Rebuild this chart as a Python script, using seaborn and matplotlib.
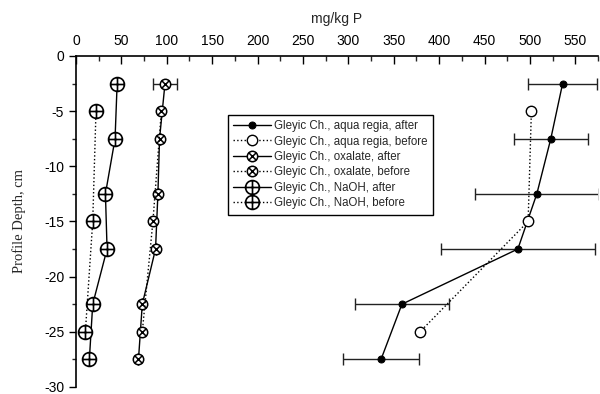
import numpy as np
import seaborn as sns
import matplotlib.pyplot as plt
from matplotlib.path import Path

# depths (cm)
depth_after = [-2.5, -7.5, -12.5, -17.5, -22.5, -27.5]
depth_before = [-5, -15, -25]

# aqua regia
aqua_after = [536, 523, 507.6, 486.7, 359, 336]
aqua_after_err = [38, 41, 68, 85, 52, 42]
aqua_before = [501.6, 498, 379]

# oxalate
oxal_after = [98, 92, 90.2, 87.6, 73, 68.8]
oxal_after_err = [13.5, 0, 0, 0, 0, 0]
oxal_before = [94, 84.7, 73]

# NaOH
naoh_after = [45.3, 43, 32.4, 34.2, 18.4, 14.7]
naoh_before = [22, 18.4, 10.3]

sns.set_style("ticks")
plt.rcParams['font.family'] = ['Liberation Sans', 'DejaVu Sans']
plt.rcParams['axes.unicode_minus'] = False


def circle_with(lines):
    parts = [Path.unit_circle()]
    for (a, b) in lines:
        parts.append(Path([a, b], [Path.MOVETO, Path.LINETO]))
    return Path.make_compound_path(*parts)


r = 0.70710678
m_plus = circle_with([((-1, 0), (1, 0)), ((0, -1), (0, 1))])
m_cross = circle_with([((-r, -r), (r, r)), ((-r, r), (r, -r))])

fig = plt.figure(figsize=(6, 3.94), dpi=100)
ax = fig.add_axes([0.1267, 0.018, 0.87, 0.84])

# error bars
ax.errorbar(aqua_after, depth_after, xerr=aqua_after_err, fmt='none',
            ecolor='#222222', elinewidth=1, capsize=4, capthick=1, zorder=1)
ax.errorbar(oxal_after, depth_after, xerr=oxal_after_err, fmt='none',
            ecolor='#222222', elinewidth=1, capsize=4, capthick=1, zorder=1)

common = dict(sort=False, estimator=None, orient='y', color='black',
              linewidth=1, ax=ax, zorder=3)

sns.lineplot(x=aqua_after, y=depth_after, linestyle='-', marker='o',
             markersize=5, mfc='black', mec='black',
             label='Gleyic Ch., aqua regia, after', **common)
sns.lineplot(x=aqua_before, y=depth_before, linestyle=':', marker='o',
             markersize=7.5, mfc='white', mec='black', mew=1,
             label='Gleyic Ch., aqua regia, before', **common)
sns.lineplot(x=oxal_after, y=depth_after, linestyle='-', marker=m_cross,
             markersize=7.5, mfc='white', mec='black', mew=1.1,
             label='Gleyic Ch., oxalate, after', **common)
sns.lineplot(x=oxal_before, y=depth_before, linestyle=':', marker=m_cross,
             markersize=7.5, mfc='white', mec='black', mew=1.1,
             label='Gleyic Ch., oxalate, before', **common)
sns.lineplot(x=naoh_after, y=depth_after, linestyle='-', marker=m_plus,
             markersize=10, mfc='white', mec='black', mew=1.2,
             label='Gleyic Ch., NaOH, after', **common)
sns.lineplot(x=naoh_before, y=depth_before, linestyle=':', marker=m_plus,
             markersize=10, mfc='white', mec='black', mew=1.2,
             label='Gleyic Ch., NaOH, before', **common)

ax.set_xlim(0, 575)
ax.set_ylim(-30, 0)
ax.xaxis.tick_top()
ax.xaxis.set_label_position('top')
ax.set_xticks(np.arange(0, 551, 50))
ax.set_xticks(np.arange(0, 576, 25), minor=True)
ax.set_yticks(np.arange(-30, 1, 5))
ax.set_yticks(np.arange(-30, 1, 2.5), minor=True)
ax.tick_params(axis='x', which='major', direction='in', length=6, width=1,
               labelsize=10, pad=6, colors='black')
ax.tick_params(axis='x', which='minor', direction='in', length=3.5, width=1)
ax.tick_params(axis='y', which='major', direction='out', length=5, width=1,
               labelsize=10, colors='black')
ax.tick_params(axis='y', which='minor', direction='out', length=3, width=1)

for s in ['bottom', 'right']:
    ax.spines[s].set_visible(False)
for s in ['top', 'left']:
    ax.spines[s].set_linewidth(1.2)
    ax.spines[s].set_color('black')

ax.set_xlabel("mg/kg P", fontsize=10, labelpad=8)
ax.set_ylabel("Profile Depth, cm", fontsize=10.5, family='Liberation Serif',
              labelpad=13)

leg = ax.legend(loc='upper left', bbox_to_anchor=(0.291, 0.822),
                borderaxespad=0, fontsize=8.3, frameon=True, fancybox=False,
                edgecolor='black', framealpha=1, handlelength=3.3,
                handletextpad=0.25, labelspacing=0.3, borderpad=0.45)
leg.get_frame().set_linewidth(1)

fig.savefig("out.png", dpi=100)
